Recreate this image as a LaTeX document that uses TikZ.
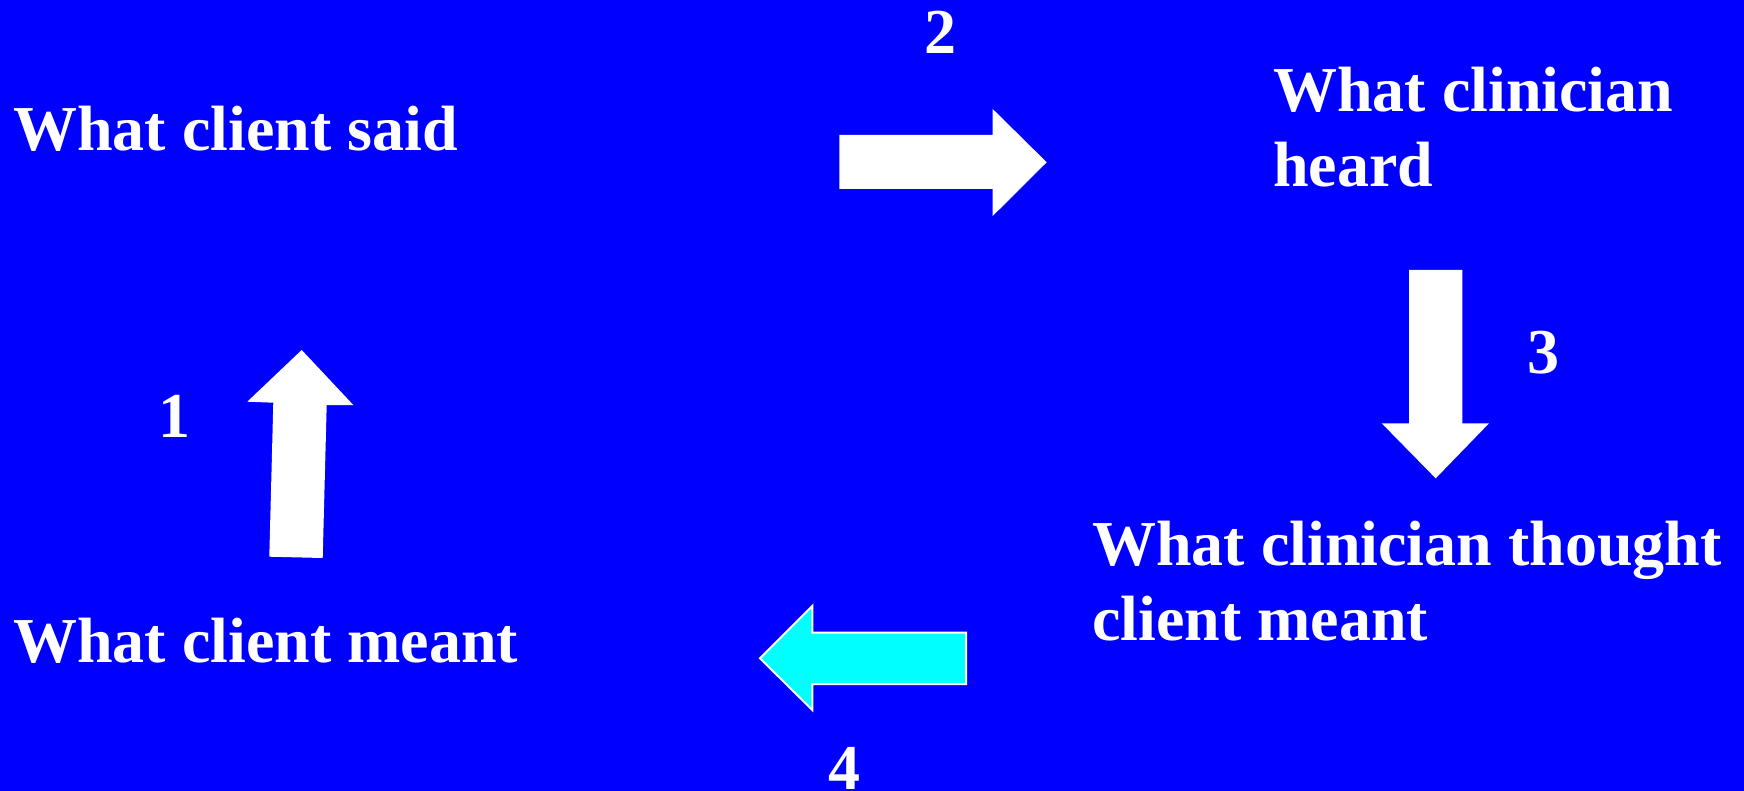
\documentclass[tikz,border=0pt]{standalone}
\usepackage{fontspec}
\setmainfont{Liberation Serif}
\definecolor{slideblue}{RGB}{0,0,255}
\definecolor{slidecyan}{RGB}{0,255,255}
\tikzset{
  label/.style={text=white, inner sep=0pt, anchor=base west, align=left,
    font=\bfseries\fontsize{64}{75}\selectfont},
  num/.style={text=white, inner sep=0pt, anchor=base west,
    font=\bfseries\fontsize{64}{75}\selectfont},
  blockarrow/.style={fill=white},
  cyanarrow/.style={fill=slidecyan, draw=white, line width=2pt, line join=miter}
}
\begin{document}
\begin{tikzpicture}[x=1pt, y=-1pt]
  \fill[slideblue] (0,0) rectangle (1744,791);
  \useasboundingbox (0,0) rectangle (1744,791);

  % statements (multi-line nodes are placed by the baseline of their last line)
  \node[label] (said)    at (13,150.7)   {What client said};
  \node[label] (heard)   at (1273,186.7) {What clinician\\heard};
  \node[label] (thought) at (1092,640.7) {What clinician thought\\client meant};
  \node[label] (meant)   at (13,662.7)   {What client meant};

  % step numbers
  \node[num] (n1) at (158,437.7) {1};
  \node[num] (n2) at (924,54)    {2};
  \node[num] (n3) at (1527,373)  {3};
  \node[num] (n4) at (828,789)   {4};

  % step 1: up
  \fill[blockarrow] (301.7,350) -- (247.3,401.7) -- (273.3,402.7) -- (269.3,556.7)
    -- (322.7,558) -- (326.7,405) -- (353.3,405) -- cycle;
  % step 2: right
  \fill[blockarrow] (839.3,135) -- (992.7,135) -- (992.7,109) -- (1046.7,162.3)
    -- (992.7,216) -- (992.7,189) -- (839.3,189) -- cycle;
  % step 3: down
  \fill[blockarrow] (1409,270) -- (1462.3,270) -- (1462.3,423.3) -- (1489,423.3)
    -- (1435.7,478.3) -- (1381.7,423.3) -- (1409,423.3) -- cycle;
  % step 4: left
  \draw[cyanarrow] (760,658.3) -- (812.3,606) -- (812.3,632.7) -- (966,632.7)
    -- (966,684) -- (812.3,684) -- (812.3,710) -- cycle;
\end{tikzpicture}
\end{document}
